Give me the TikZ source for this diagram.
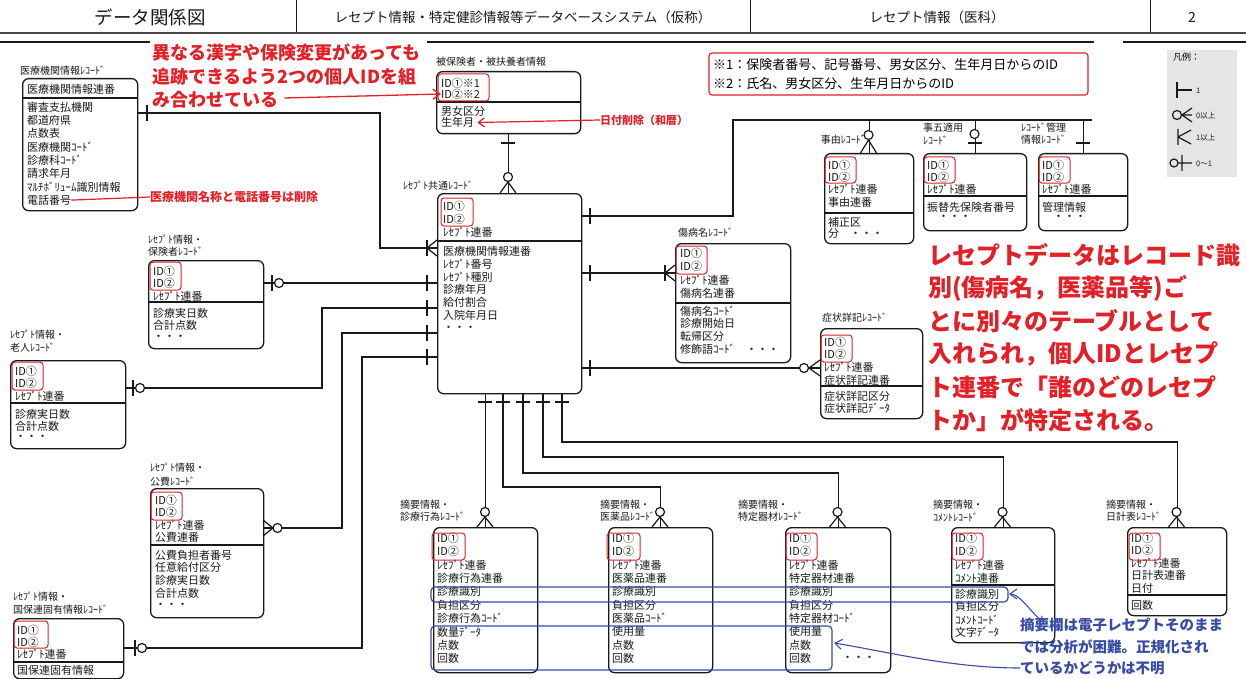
\documentclass[tikz,border=0pt]{standalone}
\usepackage{fontspec}
\setmainfont{Noto Sans CJK JP}
\usetikzlibrary{arrows.meta}
\definecolor{anred}{RGB}{226,32,38}
\definecolor{anblue}{RGB}{55,75,165}
\definecolor{inkc}{RGB}{25,25,25}
\newcommand{\rowsat}[5]{\foreach \tx [count=\i] in {#5}{\node[row] (#1\i) at (#2,{#3+(\i-1)*#4}) {\tx};}}
\newcommand{\cmV}[2]{\draw[conn] (#1,#2-8) -- (#1,#2+8);}
\newcommand{\cmH}[2]{\draw[conn] (#1-7,#2) -- (#1+7,#2);}
\newcommand{\cmO}[2]{\draw[conn,fill=white] (#1,#2) circle (4.5);}
\newcommand{\cmFH}[3]{\draw[conn] (#1,#3) -- (#2,#3-8) (#1,#3) -- (#2,#3+8);}
\newcommand{\cmFV}[3]{\draw[conn] (#1,#2) -- (#1-8,#3) (#1,#2) -- (#1+8,#3);}
\begin{document}
\begin{tikzpicture}[x=1pt,y=-1pt,
 ent/.style={draw=inkc, rounded corners=6pt, line width=1.3pt, anchor=north west, inner sep=0pt},
 row/.style={anchor=west, inner sep=0pt, font=\fontsize{11}{12}\selectfont, text=inkc},
 lbl/.style={anchor=west, inner sep=0pt, font=\fontsize{10}{11}\selectfont, text=inkc},
 sep/.style={draw=inkc, line width=1.1pt},
 conn/.style={draw=inkc, line width=1.2pt},
 idbox/.style={draw=anred, rounded corners=3pt, line width=1pt},
 redA/.style={text=anred, font=\bfseries\fontsize{18}{18}\selectfont, anchor=west, inner sep=0pt},
 redB/.style={text=anred, font=\bfseries\fontsize{24}{24}\selectfont, anchor=west, inner sep=0pt},
 redS/.style={text=anred, font=\bfseries\fontsize{12}{12}\selectfont, anchor=west, inner sep=0pt},
 hdr/.style={inner sep=0pt, text=inkc},
 lg/.style={anchor=west, inner sep=0pt, font=\fontsize{7.5}{8}\selectfont, text=inkc}]
\useasboundingbox (0,0) rectangle (1246,679);
\fill[white] (0,0) rectangle (1246,679);
% header
\node[hdr, font=\fontsize{18.5}{19}\selectfont] (h1) at (150,17) {データ関係図};
\node[hdr, font=\fontsize{13.5}{14}\selectfont] (h2) at (523,17) {レセプト情報・特定健診情報等データベースシステム（仮称）};
\node[hdr, font=\fontsize{13.5}{14}\selectfont] (h3) at (937,17) {レセプト情報（医科）};
\node[hdr, font=\fontsize{14}{14}\selectfont] (h4) at (1192,17) {2};
\draw[inkc, line width=1pt] (296,0) -- (296,32) (750,0) -- (750,32) (1150,0) -- (1150,32);
\draw[inkc!80, line width=2.2pt] (0,33) -- (1246,33);
\draw[inkc, line width=1.6pt] (0,42) -- (150,42) (427,42) -- (1094,42) (1123,42) -- (1246,42);
% red note 1
\node[redA] (ra1) at (152,53) {異なる漢字や保険変更があっても};
\node[redA] (ra2) at (152,77) {追跡できるよう2つの個人IDを組};
\node[redA] (ra3) at (152,100) {み合わせている};
% iryo
\node[ent, minimum width=115, minimum height=132] (iryo) at (22,78) {};
\node[lbl] (iryoL) at (20,71) {医療機関情報ﾚｺｰﾄﾞ};
\rowsat{iryoA}{27}{89}{13}{医療機関情報連番}
\draw[sep] (iryo.west |- 0,98) -- (iryo.east |- 0,98);
\rowsat{iryoB}{27}{107}{13.3}{審査支払機関,都道府県,点数表,医療機関ｺｰﾄﾞ,診療科ｺｰﾄﾞ,請求年月,ﾏﾙﾁﾎﾞﾘｭｰﾑ識別情報,電話番号}
\node[redS] (rn2) at (150,197) {医療機関名称と電話番号は削除};
\draw[anred, line width=1.2pt] (iryoB8.east) -- (rn2.west);
% hiho
\node[ent, minimum width=144, minimum height=62] (hiho) at (436,71) {};
\node[lbl] (hihoL) at (436,62) {被保険者・被扶養者情報};
\rowsat{hihoA}{441}{83}{11}{ID①※1,ID②※2}
\draw[sep] (hiho.west |- 0,102) -- (hiho.east |- 0,102);
\rowsat{hihoB}{441}{111}{11.5}{男女区分,生年月}
\draw[idbox] (438,74) rectangle (489,101);
\draw[anred, line width=1.3pt, -{Straight Barb[length=7pt,width=10pt]}] (ra3.east) ++(6,-2) -- (hihoA2.west);
\node[text=anred, font=\bfseries\fontsize{11}{11}\selectfont, anchor=west, inner sep=0pt] (rn3) at (600,120) {日付削除（和暦）};
\draw[anred, line width=1.2pt, -{Straight Barb[length=6pt,width=9pt]}] (rn3.west) -- ([xshift=3pt]hihoB2.east);
% note box
\draw[anred, line width=1.1pt, rounded corners=3pt] (709,53) rectangle (1088,95);
\node[anchor=west, inner sep=0pt, font=\fontsize{13}{13}\selectfont] (nt1) at (713,65) {※1：保険者番号、記号番号、男女区分、生年月日からのID};
\node[anchor=west, inner sep=0pt, font=\fontsize{13}{13}\selectfont] (nt2) at (713,84) {※2：氏名、男女区分、生年月日からのID};
% legend
\fill[black!10] (1167,50) rectangle (1237,177);
\node[anchor=west, inner sep=0pt, font=\fontsize{9}{9}\selectfont] (lgT) at (1173,57) {凡例：};
\draw[conn] (1177,82) -- (1177,98) (1177,90) -- (1192,90);
\node[lg] (lg1) at (1196,91) {1};
\draw[conn] (1182,115) -- (1192,108) (1182,115) -- (1192,122) (1182,115) -- (1192,115);
\draw[conn] (1177,115) circle (4.5);
\node[lg] (lg2) at (1196,116) {0以上};
\draw[conn] (1178,129) -- (1178,145) (1178,137) -- (1191,130) (1178,137) -- (1191,144);
\node[lg] (lg3) at (1196,138) {1以上};
\draw[conn] (1174,163) circle (4) (1182,155) -- (1182,171) (1178,163) -- (1192,163);
\node[lg] (lg4) at (1196,164) {0～1};
% central
\node[ent, minimum width=144, minimum height=200] (rece) at (437,193) {};
\node[lbl] (receL) at (403,186) {ﾚｾﾌﾟﾄ共通ﾚｺｰﾄﾞ};
\rowsat{receA}{443}{206}{13.3}{ID①,ID②,ﾚｾﾌﾟﾄ連番}
\draw[sep] (rece.west |- 0,241) -- (rece.east |- 0,241);
\rowsat{receB}{443}{251}{12.9}{医療機関情報連番,ﾚｾﾌﾟﾄ番号,ﾚｾﾌﾟﾄ種別,診療年月,給付割合,入院年月日,・・・}
\draw[idbox] (441,198) rectangle (473,226);
% hoken
\node[ent, minimum width=115, minimum height=88] (hoken) at (148,260) {};
\node[lbl] (hokenL1) at (148,240) {ﾚｾﾌﾟﾄ情報・};
\node[lbl] (hokenL2) at (148,252) {保険者ﾚｺｰﾄﾞ};
\rowsat{hokenA}{153}{271}{12.5}{ID①,ID②,ﾚｾﾌﾟﾄ連番}
\draw[sep] (hoken.west |- 0,302) -- (hoken.east |- 0,302);
\rowsat{hokenB}{153}{313}{12.5}{診療実日数,合計点数,・・・}
\draw[idbox] (150,262) rectangle (181,290);
% rojin
\node[ent, minimum width=115, minimum height=88] (rojin) at (10,360) {};
\node[lbl] (rojinL1) at (10,335) {ﾚｾﾌﾟﾄ情報・};
\node[lbl] (rojinL2) at (10,348) {老人ﾚｺｰﾄﾞ};
\rowsat{rojinA}{15}{371}{12.5}{ID①,ID②,ﾚｾﾌﾟﾄ連番}
\draw[sep] (rojin.west |- 0,403) -- (rojin.east |- 0,403);
\rowsat{rojinB}{15}{414}{12}{診療実日数,合計点数,・・・}
\draw[idbox] (12,362) rectangle (43,390);
% kohi
\node[ent, minimum width=113, minimum height=129] (kohi) at (150,488) {};
\node[lbl] (kohiL1) at (150,468) {ﾚｾﾌﾟﾄ情報・};
\node[lbl] (kohiL2) at (150,482) {公費ﾚｺｰﾄﾞ};
\rowsat{kohiA}{155}{500}{12.5}{ID①,ID②,ﾚｾﾌﾟﾄ連番,公費連番}
\draw[sep] (kohi.west |- 0,545) -- (kohi.east |- 0,545);
\rowsat{kohiB}{155}{555}{12.8}{公費負担者番号,任意給付区分,診療実日数,合計点数,・・・}
\draw[idbox] (151,492) rectangle (182,520);
% kokuho
\node[ent, minimum width=110, minimum height=60] (kokuho) at (13,618) {};
\node[lbl] (kokuhoL1) at (13,597) {ﾚｾﾌﾟﾄ情報・};
\node[lbl] (kokuhoL2) at (13,610) {国保連固有情報ﾚｺｰﾄﾞ};
\rowsat{kokuhoA}{17}{630}{12}{ID①,ID②,ﾚｾﾌﾟﾄ連番}
\draw[sep] (kokuho.west |- 0,662) -- (kokuho.east |- 0,662);
\rowsat{kokuhoB}{17}{670}{12}{国保連固有情報}
\draw[idbox] (14,621) rectangle (48,648);
% shobyo
\node[ent, minimum width=115, minimum height=119] (shobyo) at (675,243) {};
\node[lbl] (shobyoL) at (678,233) {傷病名ﾚｺｰﾄﾞ};
\rowsat{shobyoA}{680}{253}{13.5}{ID①,ID②,ﾚｾﾌﾟﾄ連番,傷病名連番}
\draw[sep] (shobyo.west |- 0,303) -- (shobyo.east |- 0,303);
\rowsat{shobyoB}{680}{311}{12.7}{傷病名ｺｰﾄﾞ,診療開始日,転帰区分,修飾語ｺｰﾄﾞ　・・・}
\draw[idbox] (676,246) rectangle (707,274);
% shojo
\node[ent, minimum width=102, minimum height=90] (shojo) at (820,328) {};
\node[lbl] (shojoL) at (822,318) {症状詳記ﾚｺｰﾄﾞ};
\rowsat{shojoA}{824}{342}{12.7}{ID①,ID②,ﾚｾﾌﾟﾄ連番,症状詳記連番}
\draw[sep] (shojo.west |- 0,386) -- (shojo.east |- 0,386);
\rowsat{shojoB}{824}{396}{12}{症状詳記区分,症状詳記ﾃﾞｰﾀ}
\draw[idbox] (821,335) rectangle (852,362);
% jiyu
\node[ent, minimum width=89, minimum height=90] (jiyu) at (824,153) {};
\node[lbl, anchor=east] (jiyuL) at (866,140) {事由ﾚｺｰﾄﾞ};
\rowsat{jiyuA}{828}{165}{12.3}{ID①,ID②,ﾚｾﾌﾟﾄ連番,事由連番}
\draw[sep] (jiyu.west |- 0,213) -- (jiyu.east |- 0,213);
\rowsat{jiyuB}{828}{222}{11}{補正区,分　・・・}
\draw[idbox] (825,157) rectangle (856,183);
% jiko
\node[ent, minimum width=103, minimum height=77] (jiko) at (923,153) {};
\node[lbl] (jikoL1) at (923,128) {事五適用};
\node[lbl] (jikoL2) at (923,140) {ﾚｺｰﾄﾞ};
\rowsat{jikoA}{927}{165}{12.3}{ID①,ID②,ﾚｾﾌﾟﾄ連番}
\draw[sep] (jiko.west |- 0,196) -- (jiko.east |- 0,196);
\rowsat{jikoB}{927}{207}{11}{振替先保険者番号,　・・・}
\draw[idbox] (924,157) rectangle (955,183);
% kanri
\node[ent, minimum width=89, minimum height=77] (kanri) at (1038,153) {};
\node[lbl] (kanriL1) at (1021,128) {ﾚｺｰﾄﾞ管理};
\node[lbl] (kanriL2) at (1021,140) {情報ﾚｺｰﾄﾞ};
\rowsat{kanriA}{1042}{165}{12.3}{ID①,ID②,ﾚｾﾌﾟﾄ連番}
\draw[sep] (kanri.west |- 0,196) -- (kanri.east |- 0,196);
\rowsat{kanriB}{1042}{207}{11}{管理情報,　・・・}
\draw[idbox] (1039,157) rectangle (1070,183);
% big red text
\node[redB] (rb1) at (928,255) {レセプトデータはレコード識};
\node[redB] (rb2) at (928,288) {別(傷病名，医薬品等)ご};
\node[redB] (rb3) at (928,321) {とに別々のテーブルとして};
\node[redB] (rb4) at (928,354) {入れられ，個人IDとレセプ};
\node[redB] (rb5) at (928,387) {ト連番で「誰のどのレセプ};
\node[redB] (rb6) at (928,420) {トか」が特定される。};
% bottom boxes
\node[ent, minimum width=104, minimum height=145] (shinryo) at (433,527) {};
\node[lbl] (shinryoL1) at (400,505) {摘要情報・};
\node[lbl] (shinryoL2) at (400,517) {診療行為ﾚｺｰﾄﾞ};
\rowsat{shinryoA}{437}{538}{13.4}{ID①,ID②,ﾚｾﾌﾟﾄ連番,診療行為連番,診療識別,負担区分,診療行為ｺｰﾄﾞ,数量ﾃﾞｰﾀ,点数,回数}
\draw[idbox] (432,533) rectangle (465,560);
\node[ent, minimum width=104, minimum height=145] (iyaku) at (608,527) {};
\node[lbl] (iyakuL1) at (600,505) {摘要情報・};
\node[lbl] (iyakuL2) at (600,517) {医薬品ﾚｺｰﾄﾞ};
\rowsat{iyakuA}{612}{538}{13.4}{ID①,ID②,ﾚｾﾌﾟﾄ連番,医薬品連番,診療識別,負担区分,医薬品ｺｰﾄﾞ,使用量,点数,回数}
\draw[idbox] (607,533) rectangle (640,560);
\node[ent, minimum width=105, minimum height=145] (tokutei) at (785,527) {};
\node[lbl] (tokuteiL1) at (738,505) {摘要情報・};
\node[lbl] (tokuteiL2) at (738,517) {特定器材ﾚｺｰﾄﾞ};
\rowsat{tokuteiA}{789}{538}{13.4}{ID①,ID②,ﾚｾﾌﾟﾄ連番,特定器材連番,診療識別,負担区分,特定器材ｺｰﾄﾞ,使用量,点数,回数}
\node[row] (tokuteiD) at (842,659) {・・・};
\draw[idbox] (786,533) rectangle (817,560);
\node[ent, minimum width=103, minimum height=115] (comment) at (951,527) {};
\node[lbl] (commentL1) at (933,505) {摘要情報・};
\node[lbl] (commentL2) at (933,517) {ｺﾒﾝﾄﾚｺｰﾄﾞ};
\rowsat{commentA}{955}{538}{13.4}{ID①,ID②,ﾚｾﾌﾟﾄ連番,ｺﾒﾝﾄ連番}
\draw[sep] (comment.west |- 0,585) -- (comment.east |- 0,585);
\rowsat{commentB}{955}{594}{12.8}{診療識別,負担区分,ｺﾒﾝﾄｺｰﾄﾞ,文字ﾃﾞｰﾀ}
\draw[idbox] (952,533) rectangle (983,560);
\node[ent, minimum width=99, minimum height=88] (nikkei) at (1127,527) {};
\node[lbl] (nikkeiL1) at (1106,505) {摘要情報・};
\node[lbl] (nikkeiL2) at (1106,517) {日計表ﾚｺｰﾄﾞ};
\rowsat{nikkeiA}{1131}{538}{12.6}{ID①,ID②,ﾚｾﾌﾟﾄ連番,日計表連番,日付}
\draw[sep] (nikkei.west |- 0,595) -- (nikkei.east |- 0,595);
\rowsat{nikkeiB}{1131}{605}{12}{回数}
\draw[idbox] (1129,533) rectangle (1160,560);
% blue annotations
\draw[anblue, line width=1.2pt, rounded corners=4pt] (431,587) rectangle (1008,602);
\draw[anblue, line width=1.2pt, rounded corners=4pt] (431,626) rectangle (832,670);
\coordinate (bl1) at (1009,594);
\coordinate (bl2) at (834,643);
\node[text=anblue, font=\bfseries\fontsize{14.5}{14.5}\selectfont, anchor=west, inner sep=0pt] (bn1) at (1020,625) {摘要欄は電子レセプトそのまま};
\node[text=anblue, font=\bfseries\fontsize{14.5}{14.5}\selectfont, anchor=west, inner sep=0pt] (bn2) at (1020,647) {では分析が困難。正規化され};
\node[text=anblue, font=\bfseries\fontsize{14.5}{14.5}\selectfont, anchor=west, inner sep=0pt] (bn3) at (1020,668) {ているかどうかは不明};
\draw[anblue, line width=1.1pt, -{Straight Barb[length=7pt,width=10pt]}] ([xshift=22pt,yshift=2pt]bn1.north west) .. controls +(0,14) and +(14,0) .. (bl1);
\draw[anblue, line width=1.1pt, -{Straight Barb[length=7pt,width=10pt]}] (bn3.west) .. controls +(-70,0) and +(50,8) .. (bl2);
% connectors
\draw[conn] (iryo.east |- 0,113) -- (380,113) |- (rece.west |- 0,248);
\cmV{147}{113} \cmV{427}{248} \cmFH{427}{437}{248}
\draw[conn] (hiho.south) -- (hiho.south |- rece.north);
\cmH{508}{143} \cmO{508}{177} \cmFV{508}{182}{193}
\draw[conn] (rece.east |- 0,216) -- (733,216) |- (1092,120);
\draw[conn] (jiyu.north |- 0,120) -- (jiyu.north);
\draw[conn] (jiko.north |- 0,120) -- (jiko.north);
\draw[conn] (kanri.north |- 0,120) -- (kanri.north);
\cmO{868.5}{135} \cmFV{868.5}{140}{153}
\cmO{974.5}{134} \cmH{974.5}{143}
\cmH{1082.5}{143}
\draw[conn] (rece.east |- 0,273) -- (shobyo.west |- 0,273);
\cmV{665}{273} \cmFH{665}{675}{273}
\draw[conn] (rece.east |- 0,368) -- (shojo.west |- 0,368);
\cmO{804}{368} \cmFH{809}{820}{368}
\cmV{590}{216} \cmV{590}{273} \cmV{590}{368}
\draw[conn] (hoken.east |- 0,283) -- (rece.west |- 0,283);
\cmV{272}{283} \cmO{279}{283} \cmV{427}{283}
\draw[conn] (rojin.east |- 0,388) -- (322,388) |- (rece.west |- 0,308);
\cmV{133}{388} \cmO{140}{388} \cmV{427}{308}
\draw[conn] (kohi.east |- 0,528) -- (342,528) |- (rece.west |- 0,333);
\cmFH{273}{263}{528} \cmO{277.5}{528} \cmV{427}{333}
\draw[conn] (kokuho.east |- 0,648) -- (362,648) |- (rece.west |- 0,357);
\cmV{135}{648} \cmO{142}{648} \cmV{427}{357}
\draw[conn] (rece.south -| shinryo.north) -- (shinryo.north);
\draw[conn] (rece.south -| 503,0) -- (503,487) -| (iyaku.north);
\draw[conn] (rece.south -| 523,0) -- (523,473) -| (tokutei.north);
\draw[conn] (rece.south -| 543,0) -- (543,457) -| (comment.north);
\draw[conn] (rece.south -| 562,0) -- (562,442) -| (nikkei.north);
\cmH{485}{402} \cmH{503}{402} \cmH{523}{402} \cmH{543}{402} \cmH{562}{402}
\cmO{485}{512} \cmFV{485}{517}{527}
\cmO{660}{512} \cmFV{660}{517}{527}
\cmO{837.5}{512} \cmFV{837.5}{517}{527}
\cmO{1002.5}{512} \cmFV{1002.5}{517}{527}
\cmO{1176.5}{512} \cmFV{1176.5}{517}{527}
\end{tikzpicture}
\end{document}
